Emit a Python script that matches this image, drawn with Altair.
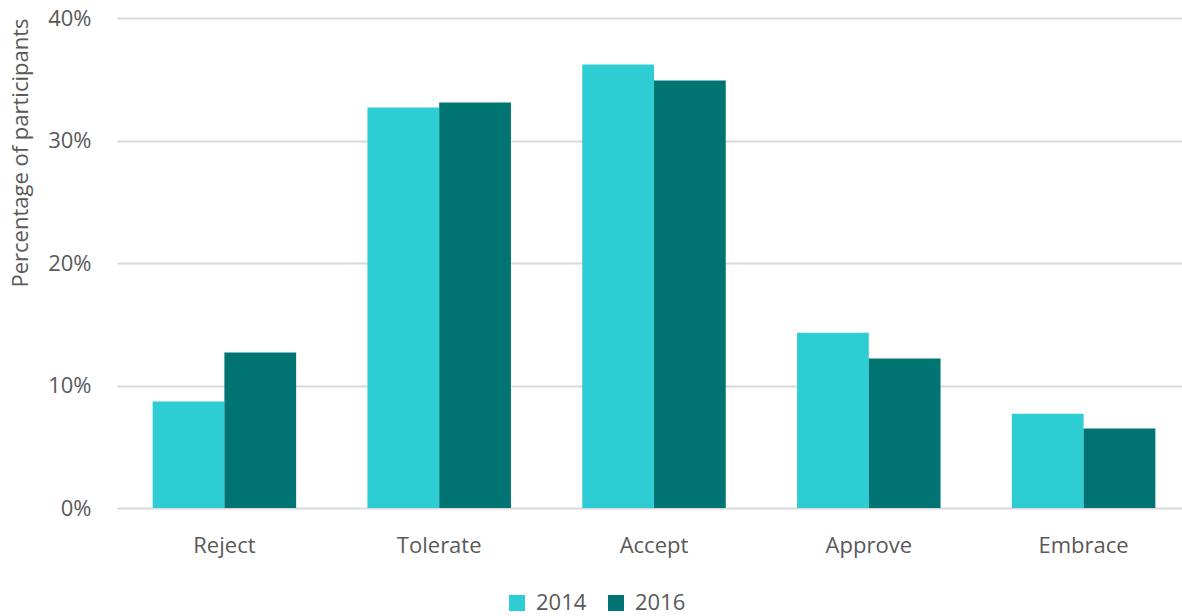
import altair as alt
import pandas as pd

categories = ["Reject", "Tolerate", "Accept", "Approve", "Embrace"]
years = ["2014", "2016"]
values_2014 = [8.7, 32.7, 36.2, 14.3, 7.7]
values_2016 = [12.7, 33.1, 34.9, 12.2, 6.5]
colors = ["#2ECCD3", "#007373"]

rows = []
for c, v1, v2 in zip(categories, values_2014, values_2016):
    rows.append({"category": c, "year": "2014", "value": v1 / 100})
    rows.append({"category": c, "year": "2016", "value": v2 / 100})
df = pd.DataFrame(rows)

FONT = "Open Sans"
TXT = "#595959"

chart = alt.Chart(df).mark_bar().encode(
    x=alt.X("category:N", sort=categories,
            scale=alt.Scale(paddingInner=0.332, paddingOuter=0.166, range=[-1, 1073]),
            axis=alt.Axis(title=None, labelAngle=0, labelPadding=27, ticks=False,
                          domain=False, labelFontSize=22, labelColor=TXT, labelFont=FONT)),
    xOffset=alt.XOffset("year:N", sort=years),
    y=alt.Y("value:Q", scale=alt.Scale(domain=[0, 0.4]),
            axis=alt.Axis(format=".0%", values=[0, 0.1, 0.2, 0.3, 0.4],
                          title="Percentage of participants", titleAnchor="end",
                          titleFontSize=22, titleFontWeight="normal", titleColor=TXT,
                          titleFont=FONT, titlePadding=15,
                          labelFontSize=22, labelColor=TXT, labelFont=FONT, labelPadding=27,
                          ticks=False, domain=False, gridColor="#D9D9D9", gridWidth=2)),
    color=alt.Color("year:N", sort=years,
                    scale=alt.Scale(domain=years, range=colors),
                    legend=alt.Legend(title=None, orient="none", direction="horizontal",
                                      legendX=388, legendY=574,
                                      symbolType="square", symbolSize=256,
                                      symbolStrokeWidth=0, labelFontSize=22,
                                      labelColor=TXT, labelFont=FONT, columnPadding=18,
                                      labelOffset=8)),
).properties(
    width=1060, height=490,
    autosize=alt.AutoSizeParams(type="none"),
    padding={"left": 118, "top": 18, "right": 4, "bottom": 108},
).configure_view(stroke=None)

chart.save("out.html", embed_options={"renderer": "svg", "actions": False})
